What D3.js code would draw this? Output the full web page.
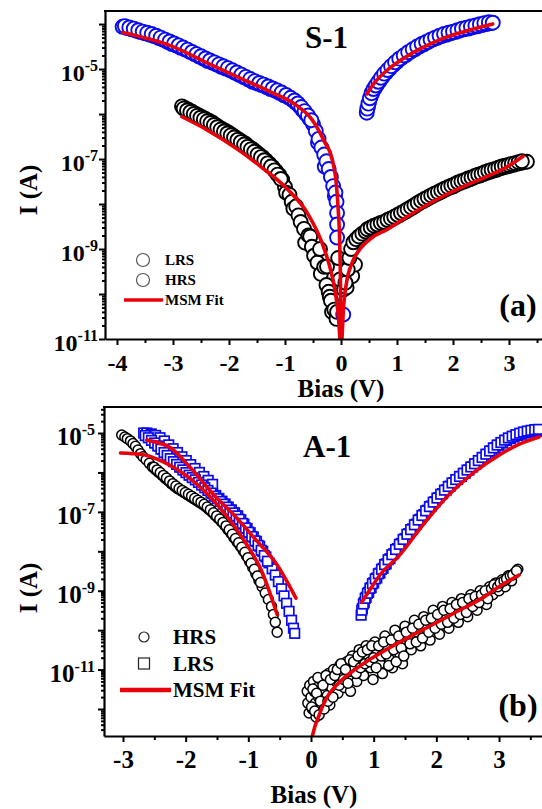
<!DOCTYPE html>
<html>
<head>
<meta charset="utf-8">
<script src="https://cdn.jsdelivr.net/npm/d3@7"></script>
<style>
  html, body { margin: 0; padding: 0; background: #fff; overflow: hidden; }
  svg { display: block; }
</style>
</head>
<body>
<svg id="fig" width="542" height="809"></svg>
<script>
// ---------- Panel (a): S-1, current (A) vs bias (V) ----------
const s1XTicks = [-4, -3, -2, -1, 0, 1, 2, 3];
const s1XMinor = [-3.5, -2.5, -1.5, -0.5, 0.5, 1.5, 2.5, 3.5];
const s1YLabelExp = [-11, -9, -7, -5];

// LRS, first sweep (blue circles): [bias, current]
const s1LRS = [
  [-3.90,8.7e-5],[-3.82,8.1e-5],[-3.74,7.6e-5],[-3.66,7.1e-5],[-3.58,6.6e-5],[-3.50,6.2e-5],
  [-3.42,5.8e-5],[-3.34,5.4e-5],[-3.26,4.9e-5],[-3.18,4.5e-5],[-3.10,4.0e-5],[-3.02,3.6e-5],
  [-2.94,3.3e-5],[-2.86,2.95e-5],[-2.78,2.7e-5],[-2.70,2.4e-5],[-2.62,2.15e-5],[-2.54,1.9e-5],
  [-2.46,1.7e-5],[-2.38,1.5e-5],[-2.30,1.38e-5],[-2.22,1.26e-5],[-2.14,1.12e-5],[-2.06,1.02e-5],
  [-1.98,9.3e-6],[-1.90,8.3e-6],[-1.82,7.4e-6],[-1.74,6.6e-6],[-1.66,5.9e-6],[-1.58,5.2e-6],
  [-1.50,4.8e-6],[-1.42,4.4e-6],[-1.34,4.0e-6],[-1.26,3.6e-6],[-1.18,3.3e-6],[-1.10,2.95e-6],
  [-1.02,2.6e-6],[-0.94,2.35e-6],[-0.86,2.0e-6],[-0.80,1.74e-6],[-0.74,1.48e-6],[-0.68,1.2e-6],
  [-0.62,9.8e-7],[-0.56,7.8e-7],[-0.50,6.0e-7],[-0.45,4.2e-7],[-0.41,2.3e-7],[-0.40,2.8e-7],
  [-0.35,1.8e-7],[-0.30,1.26e-7],[-0.29,6.8e-8],[-0.26,8.9e-8],[-0.22,6.0e-8],[-0.18,4.0e-8],
  [-0.14,2.5e-8],[-0.11,1.5e-8],[-0.10,1.8e-8],[-0.08,1.12e-8],[-0.07,6.3e-9],[-0.07,3.5e-9],
  [-0.07,1.8e-9],[0.04,3.5e-11],
  [0.46,1.07e-6],[0.48,1.41e-6],[0.50,1.82e-6],[0.53,2.4e-6],[0.56,3.0e-6],[0.60,3.7e-6],
  [0.64,4.4e-6],[0.69,5.4e-6],[0.74,6.6e-6],[0.80,8.1e-6],[0.86,9.8e-6],[0.93,1.2e-5],
  [1.00,1.45e-5],[1.08,1.74e-5],[1.16,2.04e-5],[1.24,2.4e-5],[1.32,2.75e-5],[1.40,3.16e-5],
  [1.48,3.55e-5],[1.56,4.0e-5],[1.64,4.5e-5],[1.72,4.9e-5],[1.80,5.4e-5],[1.88,5.75e-5],
  [1.96,6.2e-5],[2.04,6.6e-5],[2.12,7.1e-5],[2.20,7.6e-5],[2.28,7.9e-5],[2.36,8.5e-5],
  [2.44,8.9e-5],[2.52,9.5e-5],[2.60,1.0e-4],[2.68,1.05e-4]
];
// LRS, return sweep
const s1LRSBack = [
  [-3.86,9.0e-5],[-3.78,8.4e-5],[-3.70,7.9e-5],[-3.62,7.3e-5],[-3.54,6.8e-5],[-3.46,6.4e-5],
  [-3.38,6.0e-5],[-3.30,5.5e-5],[-3.22,5.0e-5],[-3.14,4.5e-5],[-3.06,4.1e-5],[-2.98,3.7e-5],
  [-2.90,3.35e-5],[-2.82,3.0e-5],[-2.74,2.7e-5],[-2.66,2.4e-5],[-2.58,2.15e-5],[-2.50,1.93e-5],
  [-2.42,1.72e-5],[-2.34,1.55e-5],[-2.26,1.41e-5],[-2.18,1.27e-5],[-2.10,1.15e-5],[-2.02,1.05e-5],
  [-1.94,9.4e-6],[-1.86,8.4e-6],[-1.78,7.5e-6],[-1.70,6.7e-6],[-1.62,6.0e-6],[-1.54,5.4e-6],
  [-1.46,4.9e-6],[-1.38,4.5e-6],[-1.30,4.1e-6],[-1.22,3.7e-6],[-1.14,3.35e-6],[-1.06,3.0e-6],
  [-0.98,2.65e-6],[-0.90,2.3e-6],[-0.83,2.0e-6],[-0.77,1.72e-6],[-0.71,1.43e-6],[-0.65,1.16e-6],
  [-0.59,9.3e-7],[-0.53,7.3e-7],
  [0.47,1.32e-6],[0.49,1.7e-6],[0.515,2.24e-6],[0.545,2.9e-6],[0.58,3.6e-6],[0.62,4.3e-6],
  [0.665,5.2e-6],[0.715,6.4e-6],[0.77,7.9e-6],[0.83,9.5e-6],[0.895,1.16e-5],[0.965,1.41e-5],
  [1.04,1.7e-5],[1.12,2.0e-5],[1.20,2.37e-5],[1.28,2.75e-5],[1.36,3.16e-5],[1.44,3.6e-5],
  [1.52,4.0e-5],[1.60,4.5e-5],[1.68,5.0e-5],[1.76,5.5e-5],[1.84,6.0e-5],[1.92,6.4e-5],
  [2.00,6.8e-5],[2.08,7.3e-5],[2.16,7.9e-5],[2.24,8.3e-5],[2.32,8.8e-5],[2.40,9.3e-5],
  [2.48,9.9e-5],[2.56,1.05e-4],[2.64,1.1e-4],[2.71,1.07e-4]
];

// HRS, first sweep (black circles)
const s1HRS = [
  [-2.84,1.48e-6],[-2.78,1.35e-6],[-2.72,1.23e-6],[-2.66,1.12e-6],[-2.60,1.02e-6],[-2.54,9.3e-7],
  [-2.48,8.5e-7],[-2.42,7.8e-7],[-2.36,7.1e-7],[-2.30,6.5e-7],[-2.24,5.75e-7],[-2.18,5.1e-7],
  [-2.12,4.6e-7],[-2.06,4.2e-7],[-2.00,3.8e-7],[-1.94,3.4e-7],[-1.88,3.0e-7],[-1.82,2.7e-7],
  [-1.76,2.4e-7],[-1.70,2.15e-7],[-1.64,1.86e-7],[-1.58,1.66e-7],[-1.52,1.45e-7],[-1.46,1.26e-7],
  [-1.40,1.1e-7],[-1.34,9.3e-8],[-1.28,7.9e-8],[-1.22,6.6e-8],[-1.16,5.4e-8],[-1.10,4.4e-8],
  [-1.05,3.5e-8],[-1.00,2.4e-8],[-0.98,1.78e-8],[-0.92,1.6e-8],[-0.88,1.12e-8],[-0.85,7.9e-9],
  [-0.80,8.9e-9],[-0.76,5.6e-9],[-0.72,4.0e-9],[-0.66,2.8e-9],[-0.64,1.38e-9],[-0.58,2.0e-9],
  [-0.55,1.9e-9],[-0.52,1.12e-9],[-0.48,7.1e-10],[-0.42,5.0e-10],[-0.375,1.0e-9],[-0.36,2.8e-10],
  [-0.30,4.0e-10],[-0.26,1.58e-10],[-0.25,4.1e-10],[-0.22,1.12e-10],[-0.20,8.7e-11],[-0.18,7.1e-11],
  [-0.16,4.0e-11],[-0.12,4.5e-11],[-0.08,2.8e-11],[-0.07,4.0e-11],[-0.05,6.3e-10],[-0.02,2.1e-10],
  [0.05,1.26e-10],[0.10,1.4e-10],[0.20,2.5e-10],[0.25,4.5e-10],
  [0.08,1.78e-10],[0.12,3.5e-10],[0.15,6.3e-10],[0.18,1.0e-9],[0.22,1.41e-9],[0.27,1.66e-9],
  [0.32,1.9e-9],[0.38,2.2e-9],[0.44,2.45e-9],[0.50,2.7e-9],[0.56,2.95e-9],[0.62,3.16e-9],
  [0.68,3.4e-9],[0.74,3.6e-9],[0.80,3.9e-9],[0.86,4.3e-9],[0.92,4.7e-9],[0.98,5.1e-9],
  [1.04,5.6e-9],[1.10,6.2e-9],[1.16,6.8e-9],[1.22,7.6e-9],[1.28,8.3e-9],[1.34,9.3e-9],
  [1.40,1.05e-8],[1.46,1.15e-8],[1.52,1.26e-8],[1.58,1.38e-8],[1.64,1.51e-8],[1.70,1.66e-8],
  [1.76,1.78e-8],[1.82,1.95e-8],[1.88,2.15e-8],[1.94,2.3e-8],[2.00,2.45e-8],[2.06,2.7e-8],
  [2.12,2.9e-8],[2.18,3.1e-8],[2.24,3.3e-8],[2.30,3.55e-8],[2.36,3.8e-8],[2.42,4.1e-8],
  [2.48,4.3e-8],[2.54,4.6e-8],[2.60,4.9e-8],[2.66,5.2e-8],[2.72,5.5e-8],[2.78,5.75e-8],
  [2.84,6.2e-8],[2.90,6.5e-8],[2.96,6.8e-8],[3.02,7.1e-8],[3.08,7.4e-8],[3.14,7.8e-8],
  [3.20,8.1e-8],[3.26,8.5e-8],[3.32,8.7e-8]
];
// HRS, return sweep
const s1HRSBack = [
  [-2.81,1.32e-6],[-2.75,1.2e-6],[-2.69,1.1e-6],[-2.63,1.0e-6],[-2.57,9.1e-7],[-2.51,8.3e-7],
  [-2.45,7.6e-7],[-2.39,6.9e-7],[-2.33,6.3e-7],[-2.27,5.7e-7],[-2.21,5.1e-7],[-2.15,4.5e-7],
  [-2.09,4.1e-7],[-2.03,3.7e-7],[-1.97,3.35e-7],[-1.91,3.0e-7],[-1.85,2.66e-7],[-1.79,2.37e-7],
  [-1.73,2.1e-7],[-1.67,1.86e-7],[-1.61,1.64e-7],[-1.55,1.45e-7],[-1.49,1.26e-7],[-1.43,1.1e-7],
  [-1.37,9.4e-8],[-1.31,8.0e-8],[-1.25,6.8e-8],[-1.19,5.6e-8],[-1.13,4.5e-8],[-1.075,3.6e-8],
  [0.47,2.75e-9],[0.53,3.0e-9],[0.59,3.3e-9],[0.65,3.5e-9],[0.71,3.8e-9],[0.77,4.0e-9],
  [0.83,4.4e-9],[0.89,4.8e-9],[0.95,5.2e-9],[1.01,5.75e-9],[1.07,6.3e-9],[1.13,6.9e-9],
  [1.19,7.7e-9],[1.25,8.5e-9],[1.31,9.4e-9],[1.37,1.06e-8],[1.43,1.17e-8],[1.49,1.29e-8],
  [1.55,1.41e-8],[1.61,1.55e-8],[1.67,1.7e-8],[1.73,1.84e-8],[1.79,2.0e-8],[1.85,2.2e-8],
  [1.91,2.37e-8],[1.97,2.55e-8],[2.03,2.75e-8],[2.09,3.0e-8],[2.15,3.2e-8],[2.21,3.4e-8],
  [2.27,3.7e-8],[2.33,3.9e-8],[2.39,4.2e-8],[2.45,4.5e-8],[2.51,4.7e-8],[2.57,5.1e-8],
  [2.63,5.4e-8],[2.69,5.75e-8],[2.75,6.0e-8],[2.81,6.4e-8],[2.87,6.8e-8],[2.93,7.1e-8],
  [2.99,7.4e-8],[3.05,7.8e-8],[3.11,8.1e-8],[3.17,8.5e-8],[3.23,8.9e-8]
];

// MSM fit curves (red)
const s1FitLRSNeg = [[-3.90,6.5e-5],[-3.00,3.16e-5],[-2.43,1.45e-5],[-1.80,6.3e-6],[-1.23,3.0e-6],
  [-0.80,1.58e-6],[-0.52,7.6e-7],[-0.30,2.5e-7],[-0.16,1.0e-7],[-0.08,2.5e-8],[-0.05,7.6e-9],
  [-0.02,1.0e-9],[-0.008,1.0e-10],[-0.002,6.3e-12]];
const s1FitLRSPos = [[0.46,2.8e-6],[0.60,5.0e-6],[0.80,8.9e-6],[1.00,1.38e-5],[1.41,2.8e-5],
  [1.80,4.7e-5],[2.20,6.8e-5],[2.71,1.0e-4]];
const s1FitHRSNeg = [[-2.84,8.7e-7],[-2.40,4.5e-7],[-1.84,1.62e-7],[-1.40,6.3e-8],[-0.95,2.1e-8],
  [-0.60,6.3e-9],[-0.34,1.38e-9],[-0.20,4.0e-10],[-0.10,1.07e-10],[-0.04,2.5e-11],[-0.01,6.3e-12]];
const s1FitHRSPos = [[0.01,6.3e-12],[0.04,4.0e-11],[0.10,1.82e-10],[0.20,5.0e-10],[0.34,1.0e-9],
  [0.55,1.78e-9],[0.82,2.7e-9],[1.20,5.4e-9],[1.71,1.26e-8],[2.20,2.5e-8],[2.61,4.1e-8],
  [3.00,7.1e-8],[3.25,1.15e-7]];

// ---------- Panel (b): A-1 ----------
const a1XTicks = [-3, -2, -1, 0, 1, 2, 3];
const a1XMinor = [-2.5, -1.5, -0.5, 0.5, 1.5, 2.5, 3.5];
const a1YLabelExp = [-11, -9, -7, -5];

// HRS (black circles)
const a1HRS = [
  [-3.02,8.9e-6],[-2.97,7.9e-6],[-2.93,7.2e-6],[-2.88,6.3e-6],[-2.84,5.4e-6],[-2.80,4.6e-6],
  [-2.76,3.7e-6],[-2.72,3.0e-6],[-2.68,2.5e-6],[-2.63,2.1e-6],[-2.58,1.7e-6],[-2.53,1.38e-6],
  [-2.48,1.17e-6],[-2.43,1.0e-6],[-2.38,8.5e-7],[-2.33,7.2e-7],[-2.28,6.2e-7],[-2.23,5.2e-7],
  [-2.18,4.5e-7],[-2.13,3.9e-7],[-2.08,3.5e-7],[-2.03,3.1e-7],[-1.98,2.75e-7],[-1.93,2.45e-7],
  [-1.88,2.2e-7],[-1.83,1.95e-7],[-1.78,1.74e-7],[-1.73,1.55e-7],[-1.68,1.35e-7],[-1.63,1.15e-7],
  [-1.58,9.8e-8],[-1.53,8.1e-8],[-1.48,6.8e-8],[-1.43,5.6e-8],[-1.38,4.6e-8],[-1.33,3.6e-8],
  [-1.28,2.9e-8],[-1.23,2.2e-8],[-1.18,1.74e-8],[-1.13,1.35e-8],[-1.08,1.02e-8],[-1.03,7.6e-9],
  [-0.98,5.5e-9],[-0.93,3.9e-9],[-0.88,2.7e-9],[-0.83,1.82e-9],[-0.78,1.26e-9],[-0.73,8.7e-10],
  [-0.68,6.0e-10],[-0.63,4.0e-10],[-0.60,2.5e-10],[-0.57,1.58e-10],[-0.54,8.9e-11],
  [-2.505,1.36e-6],[-2.455,1.16e-6],[-2.405,9.9e-7],[-2.355,8.4e-7],[-2.305,7.2e-7],[-2.255,6.1e-7],
  [-2.205,5.2e-7],[-2.155,4.5e-7],[-2.105,3.9e-7],[-2.055,3.5e-7],[-2.005,3.1e-7],[-1.955,2.8e-7],
  [-1.905,2.5e-7],[-1.855,2.2e-7],[-1.805,1.97e-7],[-1.755,1.76e-7],[-1.705,1.55e-7],[-1.655,1.33e-7],
  [-1.605,1.14e-7],[-1.555,9.5e-8],[-1.505,7.9e-8],[-1.455,6.6e-8],[-1.405,5.4e-8],[-1.355,4.4e-8],
  [-1.305,3.5e-8],[-1.255,2.7e-8],[-1.205,2.1e-8],[-1.155,1.64e-8],[-1.105,1.26e-8],[-1.055,9.4e-9],
  [-1.005,6.9e-9],[-0.955,4.95e-9],[-0.905,3.5e-9],[-0.855,2.37e-9],[-0.805,1.62e-9],
  [-0.06,2.8e-12],[-0.05,1.41e-12],[-0.03,7.9e-13],[-0.02,4.0e-12],[0.00,2.0e-12],[0.02,1.0e-12],
  [0.04,5.0e-12],[0.05,2.8e-12],[0.07,1.41e-12],[0.08,6.3e-13],[0.10,3.5e-12],[0.12,2.0e-12],
  [0.14,1.0e-12],[0.16,5.6e-12],[0.18,2.8e-12],[0.20,1.41e-12],[0.23,4.5e-12],[0.26,2.2e-12],
  [0.28,7.9e-12],[0.30,1.26e-12],[0.33,3.5e-12],[0.36,1.0e-11],[0.40,5.0e-12],[0.43,2.5e-12],
  [0.46,1.26e-11],[0.50,7.1e-12],[0.53,3.5e-12],[0.57,1.58e-11],[0.60,8.9e-12],[0.63,2.8e-12],
  [0.66,2.2e-11],[0.70,1.12e-11],[0.73,5.0e-12],[0.77,3.2e-11],[0.80,1.58e-11],[0.84,7.1e-12],
  [0.88,4.0e-11],[0.92,2.2e-11],[0.95,1.12e-11],[0.99,5.6e-12],[1.02,5.0e-11],[1.06,2.8e-11],
  [1.10,1.41e-11],[1.14,7.9e-12],[1.18,7.1e-11],[1.22,3.5e-11],[1.26,1.78e-11],[1.30,1.12e-11],
  [1.34,1.0e-10],[1.38,5.0e-11],[1.42,2.5e-11],[1.46,1.41e-11],[1.50,1.26e-10],[1.55,6.3e-11],
  [1.60,3.2e-11],[1.65,1.78e-10],[1.70,8.9e-11],[1.75,4.0e-11],[1.80,2.2e-10],[1.85,1.26e-10],
  [1.90,5.6e-11],[1.95,3.2e-10],[2.00,1.58e-10],[2.05,7.9e-11],[2.10,4.0e-10],[2.15,2.2e-10],
  [2.20,1.12e-10],[2.25,5.0e-10],[2.30,2.8e-10],[2.35,1.58e-10],[2.40,6.3e-10],[2.45,3.5e-10],
  [2.50,2.2e-10],[2.55,7.9e-10],[2.60,5.0e-10],[2.65,3.2e-10],[2.70,1.0e-9],[2.75,6.3e-10],
  [2.80,4.5e-10],[2.85,1.26e-9],[2.90,7.9e-10],[2.95,1.58e-9],[3.00,1.0e-9],[3.05,1.9e-9],
  [3.10,1.26e-9],[3.15,2.4e-9],[3.20,1.78e-9],[3.25,2.8e-9],[3.30,3.5e-9],
  [0.01,1.12e-12],[0.03,3.2e-12],[0.06,8.9e-13],[0.09,2.5e-12],[0.11,6.3e-12],[0.13,7.1e-13],
  [0.15,1.58e-12],[0.19,4.0e-12],[0.21,1.0e-12],[0.24,7.1e-12],[0.27,1.58e-12],[0.31,5.6e-12],
  [0.35,2.0e-12],[0.38,7.1e-12],[0.42,1.0e-11],[0.45,4.0e-12],[0.48,1.41e-11],[0.52,5.6e-12],
  [0.55,1.0e-11],[0.59,4.5e-12],[0.62,1.78e-11],[0.68,1.58e-11],[0.72,7.9e-12],[0.75,2.2e-11],
  [0.79,1.12e-11],[0.82,2.8e-11],[0.86,1.41e-11],[0.90,3.2e-11],[0.94,1.58e-11],[0.97,4.0e-11],
  [1.00,2.0e-11],[1.04,1.12e-11],[1.08,4.0e-11],[1.12,2.2e-11],[1.16,5.0e-11],[1.20,2.5e-11],
  [1.24,1.26e-11],[1.28,5.6e-11],[1.32,3.2e-11],[1.36,1.58e-11],[1.40,7.1e-11],[1.44,3.5e-11],
  [1.48,2.2e-11],[1.52,8.9e-11],[1.58,4.5e-11],[1.62,1.12e-10],[1.68,5.0e-11],[1.72,1.41e-10],
  [1.78,6.3e-11],[1.83,1.78e-10],[1.88,8.9e-11],[1.92,2.0e-10],[1.98,1.12e-10],[2.02,2.5e-10],
  [2.08,1.41e-10],[2.12,3.2e-10],[2.18,1.58e-10],[2.22,3.5e-10],[2.28,2.0e-10],[2.32,4.5e-10],
  [2.38,2.5e-10],[2.42,5.0e-10],[2.48,2.8e-10],[2.52,6.3e-10],[2.58,4.0e-10],[2.62,7.1e-10],
  [2.68,5.0e-10],[2.72,7.9e-10],[2.78,1.0e-9],[2.82,6.3e-10],[2.88,1.12e-9],[2.92,1.41e-9],
  [2.98,1.26e-9],[3.02,1.58e-9],[3.08,1.78e-9],[3.12,2.0e-9],[3.18,2.4e-9],[3.22,2.5e-9],
  [3.28,3.2e-9]
];

// LRS (blue squares)
const a1LRS = [
  [-2.67,1.0e-5],[-2.62,8.9e-6],[-2.57,7.8e-6],[-2.52,6.6e-6],[-2.47,5.6e-6],[-2.42,4.7e-6],
  [-2.37,3.9e-6],[-2.32,3.2e-6],[-2.27,2.7e-6],[-2.22,2.2e-6],[-2.17,1.9e-6],[-2.12,1.62e-6],
  [-2.07,1.38e-6],[-2.02,1.17e-6],[-1.97,1.0e-6],[-1.92,8.7e-7],[-1.87,7.6e-7],[-1.82,6.6e-7],
  [-1.77,5.75e-7],[-1.72,4.9e-7],[-1.67,4.2e-7],[-1.62,3.5e-7],[-1.57,3.0e-7],[-1.52,2.6e-7],
  [-1.47,2.2e-7],[-1.42,1.86e-7],[-1.37,1.58e-7],[-1.32,1.32e-7],[-1.27,1.12e-7],[-1.22,9.5e-8],
  [-1.17,7.9e-8],[-1.12,6.3e-8],[-1.07,4.9e-8],[-1.02,3.8e-8],[-0.97,2.95e-8],[-0.92,2.3e-8],
  [-0.87,1.78e-8],[-0.82,1.35e-8],[-0.77,1.0e-8],[-0.72,7.2e-9],[-0.67,5.1e-9],[-0.62,3.6e-9],
  [-0.57,2.5e-9],[-0.52,1.7e-9],[-0.47,1.12e-9],[-0.43,7.4e-10],[-0.39,4.8e-10],[-0.35,3.0e-10],
  [-0.31,1.78e-10],[-0.28,1.12e-10],[-0.26,8.3e-11],
  [-2.62,1.0e-5],[-2.55,9.5e-6],[-2.48,8.7e-6],[-2.41,7.6e-6],[-2.34,6.3e-6],[-2.27,5.0e-6],
  [-2.20,4.0e-6],[-2.13,3.2e-6],[-2.06,2.5e-6],[-1.99,2.0e-6],[-1.92,1.58e-6],[-1.85,1.26e-6],
  [-1.78,1.0e-6],[-1.71,7.9e-7],[-1.64,6.3e-7],[-1.57,5.0e-7],
  [-2.645,8.6e-6],[-2.595,7.6e-6],[-2.545,6.5e-6],[-2.495,5.6e-6],[-2.445,4.7e-6],[-2.395,3.9e-6],
  [-2.345,3.2e-6],[-2.295,2.7e-6],[-2.245,2.24e-6],[-2.195,1.88e-6],[-2.145,1.6e-6],[-2.095,1.36e-6],
  [-2.045,1.16e-6],[-1.995,9.9e-7],[-1.945,8.5e-7],[-1.895,7.4e-7],[-1.845,6.5e-7],[-1.795,5.6e-7],
  [-1.745,4.8e-7],[-1.695,4.1e-7],[-1.645,3.5e-7],[-1.595,3.0e-7],[-1.545,2.5e-7],[-1.495,2.16e-7],
  [-1.445,1.84e-7],[-1.395,1.57e-7],[-1.345,1.32e-7],[-1.295,1.11e-7],[-1.245,9.4e-8],[-1.195,7.9e-8],
  [-1.145,6.5e-8],[-1.095,5.1e-8],[-1.045,3.9e-8],[-0.995,3.05e-8],[-0.945,2.37e-8],[-0.895,1.84e-8],
  [-0.845,1.41e-8],[-0.795,1.06e-8],[-0.745,7.8e-9],[-0.695,5.6e-9],
  [0.80,2.4e-10],[0.82,3.5e-10],[0.85,5.0e-10],[0.88,6.8e-10],[0.92,9.1e-10],[0.96,1.2e-9],
  [1.00,1.58e-9],[1.05,2.1e-9],[1.10,2.8e-9],[1.15,3.7e-9],[1.20,4.8e-9],[1.26,6.5e-9],
  [1.32,8.7e-9],[1.38,1.17e-8],[1.44,1.58e-8],[1.50,2.1e-8],[1.56,2.8e-8],[1.62,3.7e-8],
  [1.68,4.9e-8],[1.74,6.5e-8],[1.80,8.5e-8],[1.86,1.1e-7],[1.92,1.41e-7],[1.98,1.82e-7],
  [2.04,2.3e-7],[2.10,2.9e-7],[2.16,3.6e-7],[2.22,4.5e-7],[2.28,5.5e-7],[2.34,6.6e-7],
  [2.40,7.9e-7],[2.46,9.5e-7],[2.52,1.15e-6],[2.58,1.38e-6],[2.64,1.66e-6],[2.70,2.0e-6],
  [2.76,2.4e-6],[2.82,2.9e-6],[2.88,3.5e-6],[2.94,4.2e-6],[3.00,4.9e-6],[3.06,5.6e-6],
  [3.12,6.5e-6],[3.18,7.2e-6],[3.24,7.9e-6],[3.30,8.7e-6],[3.36,9.3e-6],[3.42,1.0e-5],
  [3.48,1.05e-5],[3.54,1.1e-5],[3.60,1.12e-5],[3.66,1.15e-5],
  [0.81,3.2e-10],[0.835,4.6e-10],[0.865,6.4e-10],[0.90,8.6e-10],[0.94,1.15e-9],[0.98,1.51e-9],
  [1.025,2.0e-9],[1.075,2.7e-9],[1.125,3.5e-9],[1.175,4.6e-9],[1.23,6.1e-9],[1.29,8.2e-9],
  [1.35,1.11e-8],[1.41,1.5e-8],[1.47,2.0e-8],[1.53,2.7e-8],[1.59,3.55e-8],[1.65,4.7e-8],
  [1.71,6.2e-8],[1.77,8.1e-8],[1.83,1.06e-7],[1.89,1.36e-7],[1.95,1.76e-7],[2.01,2.24e-7],
  [2.07,2.8e-7],[2.13,3.55e-7],[2.19,4.4e-7],[2.25,5.4e-7],[2.31,6.6e-7],[2.37,7.9e-7],
  [2.43,9.5e-7],[2.49,1.15e-6],[2.55,1.38e-6],[2.61,1.66e-6],[2.67,2.0e-6],[2.73,2.4e-6],
  [2.79,2.9e-6],[2.85,3.5e-6],[2.91,4.2e-6],[2.97,4.95e-6],[3.03,5.75e-6],[3.09,6.6e-6],
  [3.15,7.5e-6],[3.21,8.3e-6],[3.27,9.1e-6],[3.33,9.9e-6],[3.39,1.06e-5],[3.45,1.12e-5],
  [3.51,1.17e-5],[3.57,1.22e-5],[3.63,1.24e-5]
];

const a1FitHRSNeg = [[-3.04,3.1e-6],[-2.85,3.0e-6],[-2.62,2.7e-6],[-2.40,2.0e-6],[-2.20,1.38e-6],
  [-2.00,8.5e-7],[-1.80,4.7e-7],[-1.55,1.9e-7],[-1.30,6.3e-8],[-1.02,1.45e-8],[-0.80,3.5e-9],
  [-0.54,2.5e-10]];
const a1FitHRSPos = [[0.02,2.0e-13],[0.06,3.5e-13],[0.12,6.3e-13],[0.18,1.12e-12],[0.24,1.78e-12],
  [0.35,3.2e-12],[0.50,5.6e-12],[0.70,1.0e-11],[0.90,1.66e-11],[1.13,2.75e-11],[1.50,5.9e-11],
  [1.93,1.35e-10],[2.30,2.8e-10],[2.73,6.5e-10],[3.00,1.26e-9],[3.32,2.5e-9]];
const a1FitLRSNeg = [[-2.62,6.6e-6],[-2.24,4.2e-6],[-1.92,1.29e-6],[-1.55,2.7e-7],[-1.18,6.9e-8],
  [-0.91,2.2e-8],[-0.54,4.5e-9],[-0.24,6.5e-10]];
const a1FitLRSPos = [[0.81,5.1e-10],[0.95,1.12e-9],[1.10,2.5e-9],[1.41,7.9e-9],[1.80,5.0e-8],
  [2.20,2.7e-7],[2.60,1.0e-6],[3.00,2.75e-6],[3.30,5.0e-6],[3.64,7.9e-6]];

// ---------- drawing ----------
const FONT = '"Liberation Serif", "Times New Roman", "DejaVu Serif", serif';
const svg = d3.select('#fig');
const BLUE = '#0a0aee';
const RED = '#e8000a';

function drawPanel(p) {
  const g = svg.append('g');
  const x = d3.scaleLinear().domain(p.xDomain).range([p.left, p.right]);
  const y = d3.scaleLog().domain(p.yDomain).range([p.bottom, p.top]);

  g.append('clipPath').attr('id', p.id + '-clip')
    .append('rect').attr('x', p.left).attr('y', p.top)
    .attr('width', p.right - p.left).attr('height', p.bottom - p.top);
  const plot = g.append('g').attr('clip-path', `url(#${p.id}-clip)`);

  p.series.forEach(s => {
    if (s.type === 'circle') {
      plot.append('g').selectAll('circle').data(s.data).join('circle')
        .attr('cx', d => x(d[0])).attr('cy', d => y(d[1])).attr('r', s.r)
        .attr('fill', '#fff').attr('stroke', s.color).attr('stroke-width', s.sw);
    } else if (s.type === 'square') {
      plot.append('g').selectAll('rect').data(s.data).join('rect')
        .attr('x', d => x(d[0]) - s.size / 2).attr('y', d => y(d[1]) - s.size / 2)
        .attr('width', s.size).attr('height', s.size)
        .attr('fill', '#fff').attr('stroke', s.color).attr('stroke-width', s.sw);
    }
  });

  const line = d3.line().x(d => x(d[0])).y(d => y(d[1])).curve(d3.curveMonotoneX);
  p.fits.forEach(f => {
    plot.append('path').attr('d', line(f)).attr('fill', 'none')
      .attr('stroke', RED).attr('stroke-width', 3.6).attr('stroke-linecap', 'round');
  });

  // axes
  const styleAxis = sel => {
    sel.selectAll('path.domain').attr('stroke', '#000').attr('stroke-width', 2.2);
    sel.selectAll('.tick line').attr('stroke', '#000').attr('stroke-width', 2);
  };
  const xa = g.append('g').attr('transform', `translate(0,${p.bottom})`)
    .call(d3.axisBottom(x).tickValues(p.xTicks).tickSize(6).tickSizeOuter(0)
      .tickPadding(p.xPad).tickFormat(d => String(d)));
  styleAxis(xa);
  xa.selectAll('text').attr('font-size', p.tickFont).attr('fill', '#000');
  const xm = g.append('g').attr('transform', `translate(0,${p.bottom})`)
    .call(d3.axisBottom(x).tickValues(p.xMinor).tickSize(4).tickFormat(''));
  xm.select('path.domain').remove();
  styleAxis(xm);

  const lo = Math.log10(p.yDomain[0]), hi = Math.log10(p.yDomain[1]);
  const decades = d3.range(Math.ceil(lo - 1e-9), Math.floor(hi) + 1).map(e => Math.pow(10, e));
  const minors = [];
  for (let e = Math.floor(lo); e <= Math.ceil(hi); e++) {
    for (let m = 2; m <= 9; m++) {
      const v = m * Math.pow(10, e);
      if (v >= p.yDomain[0] && v <= p.yDomain[1]) minors.push(v);
    }
  }
  const ya = g.append('g').attr('transform', `translate(${p.left},0)`)
    .call(d3.axisLeft(y).tickValues(decades).tickSize(6).tickSizeOuter(0).tickFormat(''));
  styleAxis(ya);
  const ym = g.append('g').attr('transform', `translate(${p.left},0)`)
    .call(d3.axisLeft(y).tickValues(minors).tickSize(3).tickFormat(''));
  ym.select('path.domain').remove();
  styleAxis(ym);

  // top frame line
  g.append('line').attr('x1', p.left - 1).attr('x2', p.right).attr('y1', p.top).attr('y2', p.top)
    .attr('stroke', '#000').attr('stroke-width', 2.2);

  // power-of-ten labels
  p.yLabelExp.forEach(e => {
    const ty = y(Math.pow(10, e));
    const t = g.append('text').attr('x', p.yLabelX).attr('y', ty + 12)
      .attr('text-anchor', 'end').attr('font-size', p.tickFont);
    t.append('tspan').text('10');
    t.append('tspan').attr('dy', -10).attr('font-size', 16).text(String(e));
  });

  // axis titles
  g.append('text').attr('x', p.xTitle[0]).attr('y', p.xTitle[1])
    .attr('text-anchor', 'middle').attr('font-size', 25).text('Bias (V)');
  g.append('text').attr('transform', `translate(${p.yTitle[0]},${p.yTitle[1]}) rotate(-90)`)
    .attr('text-anchor', 'middle').attr('font-size', 25).text('I (A)');

  // sample name and panel tag
  g.append('text').attr('x', p.name[0]).attr('y', p.name[1]).attr('font-size', 31).text(p.name[2]);
  g.append('text').attr('x', p.tag[0]).attr('y', p.tag[1]).attr('text-anchor', 'middle')
    .attr('font-size', 32).text(p.tag[2]);

  // legend
  const L = p.legend;
  L.items.forEach((it, i) => {
    const cy = L.y0 + i * L.dy;
    if (it.type === 'circle') {
      g.append('circle').attr('cx', L.mx).attr('cy', cy).attr('r', it.r)
        .attr('fill', 'none').attr('stroke', it.color).attr('stroke-width', 1.2);
    } else if (it.type === 'square') {
      g.append('rect').attr('x', L.mx - it.size / 2).attr('y', cy - it.size / 2)
        .attr('width', it.size).attr('height', it.size)
        .attr('fill', 'none').attr('stroke', it.color).attr('stroke-width', 1.2);
    } else {
      g.append('line').attr('x1', L.lx0).attr('x2', L.lx1).attr('y1', cy).attr('y2', cy)
        .attr('stroke', RED).attr('stroke-width', it.w);
    }
    g.append('text').attr('x', L.tx).attr('y', cy + L.font * 0.34)
      .attr('font-size', L.font).text(it.label);
  });
}

drawPanel({
  id: 'pa', left: 105, right: 543, top: 11, bottom: 339,
  xDomain: [-4.214, 3.607], yDomain: [1e-11, Math.pow(10, -3.71)],
  xTicks: s1XTicks, xMinor: s1XMinor, yLabelExp: s1YLabelExp,
  tickFont: 24, xPad: 9, yLabelX: 98,
  xTitle: [341, 397], yTitle: [37, 190],
  name: [305, 48, 'S-1'], tag: [518, 316, '(a)'],
  series: [
    { type: 'circle', data: s1HRS, r: 7, color: '#000', sw: 1.9 },
    { type: 'circle', data: s1HRSBack, r: 7, color: '#000', sw: 1.9 },
    { type: 'circle', data: s1LRS, r: 7, color: BLUE, sw: 1.9 },
    { type: 'circle', data: s1LRSBack, r: 7, color: BLUE, sw: 1.9 }
  ],
  fits: [s1FitLRSNeg, s1FitLRSPos, s1FitHRSNeg, s1FitHRSPos],
  legend: {
    mx: 143, tx: 165, lx0: 124, lx1: 163, y0: 260, dy: 20, font: 15,
    items: [
      { type: 'circle', r: 6.5, color: '#555', label: 'LRS' },
      { type: 'circle', r: 6.5, color: '#555', label: 'HRS' },
      { type: 'line', w: 3.5, label: 'MSM Fit' }
    ]
  }
});

drawPanel({
  id: 'pb', left: 104, right: 543, top: 407, bottom: 736,
  xDomain: [-3.303, 3.702], yDomain: [Math.pow(10, -12.685), Math.pow(10, -4.34)],
  xTicks: a1XTicks, xMinor: a1XMinor, yLabelExp: a1YLabelExp,
  tickFont: 25, xPad: 8, yLabelX: 95,
  xTitle: [314, 803], yTitle: [37, 588],
  name: [303, 457, 'A-1'], tag: [518, 716, '(b)'],
  series: [
    { type: 'circle', data: a1HRS, r: 5, color: '#000', sw: 1.5 },
    { type: 'square', data: a1LRS, size: 9.5, color: BLUE, sw: 1.7 }
  ],
  fits: [a1FitHRSNeg, a1FitLRSNeg, a1FitLRSPos, a1FitHRSPos],
  legend: {
    mx: 144, tx: 173, lx0: 120, lx1: 171, y0: 637, dy: 26.5, font: 21,
    items: [
      { type: 'circle', r: 5, color: '#222', label: 'HRS' },
      { type: 'square', size: 11, color: '#222', label: 'LRS' },
      { type: 'line', w: 4.5, label: 'MSM Fit' }
    ]
  }
});

// bold serif lettering throughout
svg.selectAll('text').style('font-family', FONT).style('font-weight', 'bold').style('fill', '#000');
svg.selectAll('g').attr('font-family', null);
</script>
</body>
</html>
